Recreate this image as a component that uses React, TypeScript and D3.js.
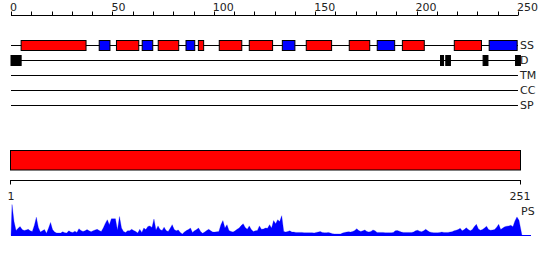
import React from "react";
import * as d3 from "d3";

const LENGTH = 251;
const axisTicks = d3.range(0, 251, 10);
const axisLabels = [0, 50, 100, 150, 200, 250];

// secondary structure segments [from, to, type]
const ssStarts = [5, 43.5, 52, 64.7, 72.6, 86.3, 92.4, 102.7, 117.5, 133.8, 145.6, 166.8, 180.6, 193, 218.6, 235.8];
const ssEnds = [37, 48.8, 63, 69.9, 82.7, 90.6, 95, 113.8, 129, 140, 158.1, 176.9, 189.2, 203.8, 232, 249.6];
const ssTypes = ["H", "E", "H", "E", "H", "E", "H", "H", "H", "E", "H", "H", "E", "H", "H", "E"];

// disorder segments
const dStarts = [0, 211.8, 214.4, 232.8, 248.8];
const dEnds = [5, 213.3, 216.7, 235.2, 251.2];

const trackNames = ["SS", "D", "TM", "CC", "SP"];

// PS per-residue scores (residues 1..251)
const psValues = [
  1.0, 0.45, 0.16, 0.23, 0.29, 0.19, 0.16, 0.18, 0.2, 0.15,
  0.13, 0.32, 0.59, 0.26, 0.11, 0.15, 0.19, 0.07, 0.23, 0.42,
  0.19, 0.11, 0.08, 0.08, 0.08, 0.12, 0.09, 0.08, 0.15, 0.11,
  0.1, 0.14, 0.1, 0.22, 0.16, 0.13, 0.15, 0.19, 0.15, 0.12,
  0.15, 0.18, 0.2, 0.16, 0.13, 0.24, 0.39, 0.51, 0.35, 0.54,
  0.54, 0.54, 0.18, 0.61, 0.24, 0.13, 0.1, 0.15, 0.15, 0.2,
  0.16, 0.13, 0.08, 0.2, 0.1, 0.24, 0.19, 0.29, 0.31, 0.26,
  0.53, 0.18, 0.31, 0.19, 0.16, 0.27, 0.16, 0.13, 0.23, 0.35,
  0.19, 0.15, 0.18, 0.1, 0.05, 0.11, 0.16, 0.19, 0.24, 0.1,
  0.15, 0.19, 0.24, 0.13, 0.07, 0.11, 0.16, 0.2, 0.15, 0.11,
  0.11, 0.12, 0.13, 0.35, 0.48, 0.24, 0.35, 0.16, 0.13, 0.11,
  0.15, 0.2, 0.24, 0.32, 0.38, 0.26, 0.2, 0.31, 0.19, 0.13,
  0.15, 0.16, 0.31, 0.2, 0.21, 0.24, 0.23, 0.35, 0.24, 0.48,
  0.38, 0.51, 0.45, 0.64, 0.13, 0.11, 0.13, 0.15, 0.11, 0.11,
  0.1, 0.1, 0.1, 0.1, 0.09, 0.09, 0.09, 0.09, 0.09, 0.08,
  0.1, 0.11, 0.13, 0.1, 0.09, 0.09, 0.1, 0.08, 0.06, 0.05,
  0.05, 0.05, 0.05, 0.08, 0.1, 0.11, 0.12, 0.11, 0.13, 0.16,
  0.22, 0.16, 0.13, 0.15, 0.18, 0.13, 0.11, 0.13, 0.18, 0.15,
  0.1, 0.1, 0.1, 0.1, 0.09, 0.09, 0.09, 0.09, 0.1, 0.15,
  0.16, 0.14, 0.11, 0.1, 0.1, 0.1, 0.1, 0.1, 0.11, 0.15,
  0.17, 0.14, 0.12, 0.15, 0.2, 0.15, 0.11, 0.1, 0.09, 0.09,
  0.09, 0.1, 0.11, 0.1, 0.1, 0.1, 0.11, 0.12, 0.15, 0.17,
  0.19, 0.23, 0.15, 0.19, 0.25, 0.19, 0.15, 0.19, 0.29, 0.36,
  0.21, 0.17, 0.19, 0.24, 0.3, 0.19, 0.17, 0.18, 0.19, 0.27,
  0.36, 0.19, 0.24, 0.28, 0.3, 0.31, 0.33, 0.28, 0.47, 0.6,
  0.49,
];

const FONT = "DejaVu Sans";

export default function App() {
  const x = d3.scaleLinear().domain([0, LENGTH]).range([11, 520]);
  const trackY = d3.scalePoint<string>().domain(trackNames).range([45, 105]);
  const psY = d3.scaleLinear().domain([0, 1]).range([235.5, 204.5]);

  const area = d3
    .area<number>()
    .x((_, i) => x(i + 0.5))
    .y0(psY(0))
    .y1((d) => psY(d))
    .curve(d3.curveLinear);
  const areaPts = [0, ...psValues, 0];
  const areaFull = d3
    .area<number>()
    .x((_, i) => (i === 0 ? x(0) : i === areaPts.length - 1 ? x(LENGTH) + 2 : x(i - 0.5)))
    .y0(psY(0))
    .y1((d) => psY(d));

  const axisY = 15.5;
  const ssY = trackY("SS")!;
  const dY = trackY("D")!;

  return (
    <svg
      width={550}
      height={260}
      style={{ position: "absolute", left: 0, top: 0, background: "#fff" }}
      fontFamily={FONT}
    >
      {/* top axis */}
      <line x1={x(0)} x2={x(250)} y1={axisY} y2={axisY} stroke="#000" strokeWidth={1} />
      {axisTicks.map((t) => (
        <line key={t} x1={Math.round(x(t)) + 0.5} x2={Math.round(x(t)) + 0.5} y1={axisY} y2={axisY - 4} stroke="#000" />
      ))}
      {axisLabels.map((t) => (
        <text key={t} x={x(t) - 1} y={10.5} fontSize={11} fill="#222">
          {t}
        </text>
      ))}

      {/* track lines */}
      {trackNames.map((n) => (
        <g key={n}>
          <line x1={x(0)} x2={x(250)} y1={trackY(n)! + 0.5} y2={trackY(n)! + 0.5} stroke="#000" />
          <text x={520} y={trackY(n)! + 0.5} dominantBaseline="central" fontSize={11} fill="#222">
            {n}
          </text>
        </g>
      ))}

      {/* SS boxes */}
      {ssStarts.map((s, i) => (
        <rect
          key={i}
          x={x(s)}
          y={ssY - 4.5}
          width={x(ssEnds[i]) - x(s)}
          height={10}
          fill={ssTypes[i] === "H" ? "#ff0000" : "#0000ff"}
          stroke="#000"
          strokeWidth={1}
        />
      ))}

      {/* D boxes */}
      {dStarts.map((s, i) => (
        <rect
          key={i}
          x={x(s)}
          y={dY - 4.5}
          width={x(dEnds[i]) - x(s)}
          height={10}
          fill="#000"
          stroke="#000"
          strokeWidth={1}
        />
      ))}

      {/* domain bar */}
      <rect x={x(0) - 0.5} y={150.5} width={x(LENGTH) - x(0) + 1} height={19.5} fill="#ff0000" stroke="#000" strokeWidth={1} />

      {/* bottom axis */}
      <line x1={x(0)} x2={x(LENGTH)} y1={180.5} y2={180.5} stroke="#000" />
      <line x1={x(0) - 0.5} x2={x(0) - 0.5} y1={180} y2={184.5} stroke="#000" />
      <line x1={x(LENGTH) + 0.5} x2={x(LENGTH) + 0.5} y1={180} y2={184.5} stroke="#000" />
      <text x={x(0)} y={200} fontSize={11} textAnchor="middle" fill="#222">
        1
      </text>
      <text x={x(LENGTH)} y={200} fontSize={11} textAnchor="middle" fill="#222">
        {LENGTH}
      </text>
      <text x={521} y={215} fontSize={11} fill="#222">
        PS
      </text>

      {/* PS area */}
      <path d={areaFull(areaPts) || ""} fill="#0000ff" stroke="#0000ff" strokeWidth={0.5} strokeOpacity={0.5} />
      <line x1={x(0)} x2={531} y1={235.5} y2={235.5} stroke="#0000ff" />
    </svg>
  );
}
